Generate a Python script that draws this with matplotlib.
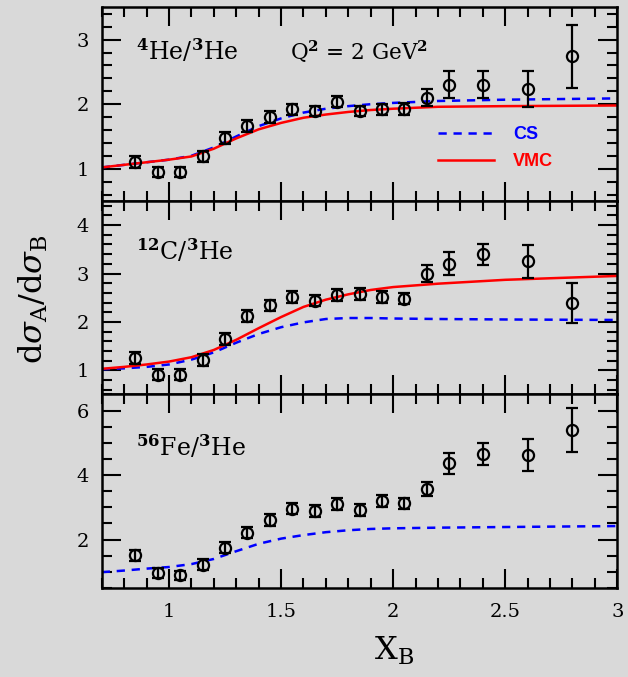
import matplotlib
matplotlib.use('Agg')
import matplotlib.pyplot as plt
from matplotlib.ticker import MultipleLocator

plt.rcParams['font.family'] = ['DejaVu Serif']
plt.rcParams['mathtext.fontset'] = 'dejavuserif'

# data
xB = [0.85, 0.95, 1.05, 1.15, 1.25, 1.35, 1.45, 1.55, 1.65,
      1.75, 1.85, 1.95, 2.05, 2.15, 2.25, 2.4, 2.6, 2.8]

he4 = [1.10, 0.95, 0.95, 1.19, 1.48, 1.66, 1.80, 1.92, 1.89,
       2.04, 1.89, 1.92, 1.93, 2.10, 2.30, 2.30, 2.24, 2.74]
he4_err = [0.09, 0.08, 0.08, 0.08, 0.09, 0.09, 0.09, 0.09, 0.08,
           0.08, 0.08, 0.08, 0.09, 0.13, 0.21, 0.21, 0.28, 0.49]

c12 = [1.26, 0.91, 0.91, 1.21, 1.65, 2.12, 2.34, 2.51, 2.44,
       2.55, 2.58, 2.51, 2.48, 3.00, 3.20, 3.40, 3.25, 2.39]
c12_err = [0.12, 0.11, 0.11, 0.12, 0.12, 0.12, 0.12, 0.12, 0.12,
           0.12, 0.12, 0.12, 0.12, 0.18, 0.24, 0.22, 0.34, 0.41]

fe56 = [1.51, 0.96, 0.89, 1.22, 1.75, 2.21, 2.60, 2.96, 2.89,
        3.10, 2.91, 3.19, 3.12, 3.57, 4.36, 4.65, 4.62, 5.40]
fe56_err = [0.17, 0.15, 0.15, 0.17, 0.17, 0.17, 0.18, 0.18, 0.18,
            0.18, 0.18, 0.18, 0.18, 0.22, 0.34, 0.34, 0.49, 0.69]

xc = [0.7, 0.8, 0.9, 1.0, 1.1, 1.2, 1.3, 1.4, 1.5, 1.6, 1.7, 1.8, 1.9, 2.0,
      2.2, 2.5, 3.0]
cs_he4 = [1.02, 1.06, 1.10, 1.14, 1.20, 1.33, 1.50, 1.66, 1.78, 1.87, 1.93,
          1.97, 2.00, 2.02, 2.05, 2.07, 2.09]
vmc_he4 = [1.02, 1.06, 1.10, 1.14, 1.19, 1.31, 1.47, 1.61, 1.71, 1.79, 1.84,
           1.88, 1.91, 1.93, 1.96, 1.97, 1.98]
cs_c12 = [1.02, 1.04, 1.07, 1.12, 1.22, 1.37, 1.57, 1.75, 1.89, 1.99, 2.06,
          2.08, 2.08, 2.07, 2.06, 2.05, 2.04]
vmc_c12 = [1.03, 1.07, 1.12, 1.18, 1.27, 1.42, 1.63, 1.87, 2.10, 2.31, 2.46,
           2.57, 2.66, 2.72, 2.79, 2.87, 2.95]
cs_fe56 = [0.99, 1.04, 1.10, 1.15, 1.24, 1.40, 1.64, 1.87, 2.03, 2.14, 2.23,
           2.29, 2.33, 2.35, 2.37, 2.39, 2.42]

bg = '#d9d9d9'
fig, axs = plt.subplots(3, 1, sharex=True, figsize=(6.28, 6.77), dpi=100,
                        facecolor=bg)
fig.subplots_adjust(left=0.162, right=0.983, top=0.989, bottom=0.1315,
                    hspace=0)

ebkw = dict(fmt='o', ms=8, mfc='none', mec='k', mew=1.6, ecolor='k',
            elinewidth=1.6, capsize=4, capthick=1.6, zorder=5)
dash = (3.3, 2.7)

ax = axs[0]
l_cs, = ax.plot(xc, cs_he4, color='#0000ff', lw=1.8, dashes=dash)
l_vmc, = ax.plot(xc, vmc_he4, color='#ff0000', lw=1.8)
ax.errorbar(xB, he4, yerr=he4_err, **ebkw)
ax.set_ylim(0.5, 3.5)
ax.yaxis.set_major_locator(MultipleLocator(1))
ax.yaxis.set_minor_locator(MultipleLocator(0.2))
ax.text(0.066, 0.728, r'$^{\mathbf{4}}$He/$^{\mathbf{3}}$He',
        transform=ax.transAxes, fontsize=17, va='baseline')
ax.text(0.365, 0.728, r'Q$^{\mathbf{2}}$ = 2 GeV$^{\mathbf{2}}$',
        transform=ax.transAxes, fontsize=15.5, va='baseline')
ax.legend([l_cs, l_vmc], ['CS', 'VMC'], loc='upper left',
          bbox_to_anchor=(0.652, 0.385), frameon=False, borderpad=0,
          borderaxespad=0, handlelength=3.1, handletextpad=1.05,
          labelspacing=0.55, labelcolor='linecolor',
          prop={'family': 'Liberation Sans', 'weight': 'bold', 'size': 13})

ax = axs[1]
ax.plot(xc, cs_c12, color='#0000ff', lw=1.8, dashes=dash)
ax.plot(xc, vmc_c12, color='#ff0000', lw=1.8)
ax.errorbar(xB, c12, yerr=c12_err, **ebkw)
ax.set_ylim(0.5, 4.5)
ax.yaxis.set_major_locator(MultipleLocator(1))
ax.yaxis.set_minor_locator(MultipleLocator(0.2))
ax.text(0.066, 0.695, r'$^{\mathbf{12}}$C/$^{\mathbf{3}}$He',
        transform=ax.transAxes, fontsize=17, va='baseline')
ax.set_ylabel(r'd$\sigma_{\rm A}$/d$\sigma_{\rm B}$', fontsize=23)
ax.yaxis.set_label_coords(-0.100, 0.49)

ax = axs[2]
ax.plot(xc, cs_fe56, color='#0000ff', lw=1.8, dashes=dash)
ax.errorbar(xB, fe56, yerr=fe56_err, **ebkw)
ax.set_ylim(0.5, 6.5)
ax.yaxis.set_major_locator(MultipleLocator(2))
ax.yaxis.set_minor_locator(MultipleLocator(0.5))
ax.text(0.066, 0.683, r'$^{\mathbf{56}}$Fe/$^{\mathbf{3}}$He',
        transform=ax.transAxes, fontsize=17, va='baseline')
ax.set_xlim(0.7, 3.0)
ax.xaxis.set_major_locator(MultipleLocator(0.5))
ax.xaxis.set_minor_locator(MultipleLocator(0.1))
ax.set_xticks([1, 1.5, 2, 2.5, 3])
ax.set_xticklabels(['1', '1.5', '2', '2.5', '3'])
ax.set_xlabel(r'X$_{\rm B}$', fontsize=23)
ax.xaxis.set_label_coords(0.567, -0.24)

for _ax in axs:
    _ax.set_facecolor(bg)
    for s in _ax.spines.values():
        s.set_linewidth(1.8)
    _ax.tick_params(which='both', direction='in', top=True, right=True,
                    width=1.5, labelsize=14)
    _ax.tick_params(which='major', length=14, pad=9)
    _ax.tick_params(which='minor', length=7)
axs[2].tick_params(axis='x', which='major', pad=11)

fig.savefig('out.png', dpi=100, facecolor=bg)
